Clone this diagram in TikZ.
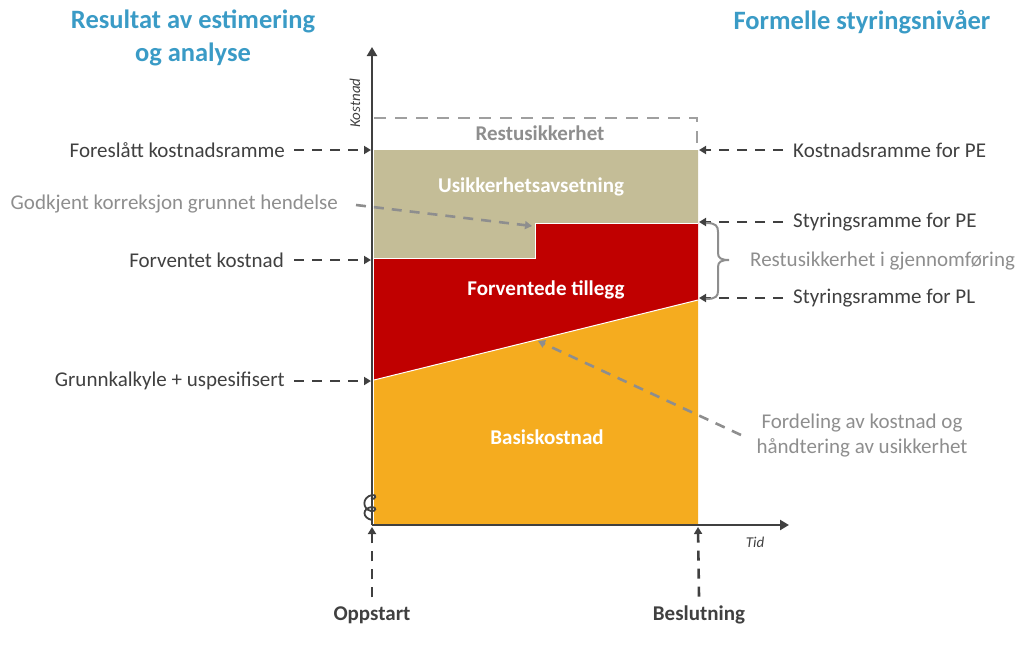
\documentclass[tikz,border=0pt]{standalone}
\usepackage{fontspec}
\setmainfont{Carlito}
\usetikzlibrary{arrows.meta}
\definecolor{beige}{HTML}{C4BD97}
\definecolor{myred}{HTML}{C00000}
\definecolor{myorange}{HTML}{F5AC1F}
\definecolor{dk}{HTML}{404040}
\definecolor{gr}{HTML}{8E8E8E}
\definecolor{blu}{HTML}{3A9BC6}
\begin{document}
\begin{tikzpicture}[x=1pt,y=-1pt,
  lbl/.style={text=dk,font=\fontsize{21}{24}\selectfont,inner sep=0pt},
  glbl/.style={text=gr,font=\fontsize{21}{24}\selectfont,inner sep=0pt},
  inlbl/.style={text=white,font=\bfseries\fontsize{21}{24}\selectfont,inner sep=0pt},
  head/.style={text=blu,font=\bfseries\fontsize{26.5}{33}\selectfont,align=center,inner sep=0pt},
  darr/.style={dk,line width=2.6pt,dash pattern=on 10pt off 8pt,-{Triangle[length=7pt,width=8pt]}},
  garr/.style={gr,line width=2.6pt,dash pattern=on 10pt off 8pt,-{Triangle[length=7pt,width=8pt]}},
  axis/.style={dk,line width=2.6pt,-{Triangle[length=9pt,width=10pt]}}
]
\useasboundingbox (0,0) rectangle (1023,664);
% areas
\fill[myorange] (374,380) -- (698,300) -- (698,525) -- (374,525) -- cycle;
\fill[myred] (374,258) -- (535,258) -- (535,223) -- (698,223) -- (698,300) -- (374,380) -- cycle;
\fill[beige] (374,150) -- (698,150) -- (698,223) -- (535,223) -- (535,258) -- (374,258) -- cycle;
\draw[white,line width=1pt] (374,258) -- (535,258) -- (535,223) -- (698,223);
\draw[white,line width=1pt] (374,380) -- (698,300);
% restusikkerhet box
\draw[gr!85,line width=2.6pt,dash pattern=on 12pt off 9pt] (374,118) -- (697,118) -- (697,148);
% axes
\coordinate (o) at (372,525);
\coordinate (ytop) at (372,47);
\coordinate (xend) at (789,525);
\draw[axis] (o) -- (ytop);
\draw[axis] (o) -- (xend);
% axis break squiggle
\draw[dk,line width=1.8pt] (372,520) .. controls (362,518) and (362,508) .. (372,507)
  .. controls (377,507) and (376,512) .. (371,511) .. controls (362,509) and (362,497) .. (372,495)
  .. controls (377,494) and (376,500) .. (371,499);
\node[font=\itshape\fontsize{15}{17}\selectfont,text=dk,rotate=90,inner sep=0pt] (kost) at (355,103) {Kostnad};
\node[font=\itshape\fontsize{15}{17}\selectfont,text=dk,inner sep=0pt] (tid) at (755,542) {Tid};
% inner labels
\node[text=gr,font=\bfseries\fontsize{21}{24}\selectfont,inner sep=0pt] (rest) at (540,133) {Restusikkerhet};
\node[inlbl] (usik) at (531,187) {Usikkerhetsavsetning};
\node[inlbl] (forvt) at (546,290) {Forventede tillegg};
\node[inlbl] (basis) at (547,437) {Basiskostnad};
% headings
\node[head] (h1) at (193,38) {Resultat av estimering\\og analyse};
\node[head] (h2) at (862,22) {Formelle styringsnivåer};
% left labels
\coordinate (yA) at (371,150);
\coordinate (yB) at (371,260);
\coordinate (yC) at (371,381);
\coordinate (step) at (532,226);
\node[lbl,anchor=east] (l1) at (285,150) {Foreslått kostnadsramme};
\node[glbl,anchor=east] (l2) at (338,204) {Godkjent korreksjon grunnet hendelse};
\node[lbl,anchor=east] (l3) at (284,260) {Forventet kostnad};
\node[lbl,anchor=east] (l4) at (285,381) {Grunnkalkyle + uspesifisert};
\draw[darr] ([xshift=9pt]l1.east) -- (yA);
\draw[garr] ([xshift=18pt,yshift=-1pt]l2.east) -- (step);
\draw[darr] ([xshift=10pt]l3.east) -- (yB);
\draw[darr] ([xshift=9pt]l4.east) -- (yC);
% right labels
\coordinate (rA) at (699,150);
\coordinate (rB) at (699,222);
\coordinate (rC) at (699,298);
\coordinate (slope) at (538,341);
\node[lbl,anchor=west] (r1) at (793,150) {Kostnadsramme for PE};
\node[lbl,anchor=west] (r2) at (793,222) {Styringsramme for PE};
\node[lbl,anchor=west] (r3) at (793,298) {Styringsramme for PL};
\node[glbl,anchor=west] (r4) at (750,261) {Restusikkerhet i gjennomføring};
\node[glbl,align=center,font=\fontsize{21}{25}\selectfont] (r5) at (862,436) {Fordeling av kostnad og\\håndtering av usikkerhet};
\coordinate (r5s) at (741,435);
\draw[garr] (r5s) -- (slope);
\draw[darr] ([xshift=-10pt]r1.west) -- (rA);
\draw[darr] ([xshift=-10pt]r2.west) -- (rB);
\draw[darr] ([xshift=-10pt]r3.west) -- (rC);
% brace
\draw[gr,line width=2pt] (706,223) .. controls (716,223) and (718,226) .. (718,232) -- (718,253)
  .. controls (718,258) and (721,260) .. (729,260)
  .. controls (721,260) and (718,262) .. (718,267) -- (718,291)
  .. controls (718,296) and (716,299) .. (706,299);
% bottom
\node[text=dk,font=\bfseries\fontsize{21}{24}\selectfont,inner sep=0pt] (opp) at (372,615) {Oppstart};
\node[text=dk,font=\bfseries\fontsize{21}{24}\selectfont,inner sep=0pt] (bes) at (699,615) {Beslutning};
\coordinate (oB) at (372,527);
\coordinate (bB) at (698,527);
\draw[darr] ([yshift=9pt]opp.north) -- (oB);
\draw[darr] ([yshift=9pt]bes.north) -- (bB);
\end{tikzpicture}
\end{document}
